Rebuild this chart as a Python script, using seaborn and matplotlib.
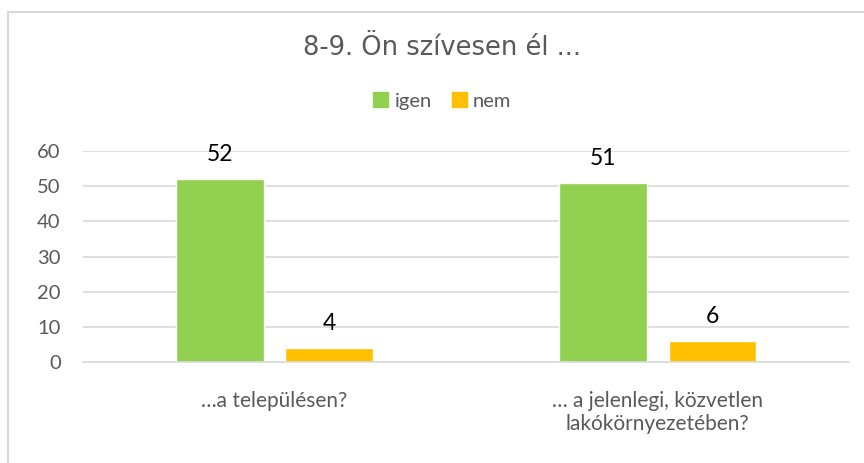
import pandas as pd
import numpy as np
import matplotlib.pyplot as plt
import seaborn as sns
from matplotlib.patches import Rectangle

# data
categories = ['…a településen?', '… a jelenlegi, közvetlen\nlakókörnyezetében?']
answers = ['igen', 'nem']
igen_values = [52, 51]
nem_values = [4, 6]
colors = {'igen': '#92D050', 'nem': '#FFC000'}

df = pd.DataFrame({
    'Kategoria': categories * 2,
    'Valasz': ['igen'] * len(categories) + ['nem'] * len(categories),
    'Ertek': igen_values + nem_values,
})

sns.set_theme(style='white')
plt.rcParams['font.family'] = ['Lato', 'DejaVu Sans']

fig = plt.figure(figsize=(8.64, 4.63), dpi=100)
ax = fig.add_axes([0.096, 0.218, 0.887, 0.456])

sns.barplot(data=df, x='Kategoria', y='Ertek', hue='Valasz', hue_order=answers,
            palette=colors, width=0.572, gap=0.2, saturation=1, ax=ax, legend=False)

for cont in ax.containers:
    ax.bar_label(cont, padding=10, fontsize=16.5, color='black')

ax.set_ylim(0, 60)
ax.set_xlim(-0.5, 1.5)
ax.set_yticks(range(0, 61, 10))
ax.yaxis.grid(True, color='#D9D9D9', linewidth=1.2)
ax.set_axisbelow(True)
for s in ['top', 'right', 'left']:
    ax.spines[s].set_visible(False)
ax.spines['bottom'].set_color('#D9D9D9')
ax.spines['bottom'].set_linewidth(1.2)
ax.set_xlabel('')
ax.set_ylabel('')
ax.tick_params(axis='y', labelsize=14.5, labelcolor='#595959', length=0, pad=16)
ax.tick_params(axis='x', labelsize=15, labelcolor='#595959', length=0, pad=21)
for lab in ax.get_xticklabels():
    lab.set_linespacing(1.2)

# title
fig.text(0.511, 0.896, '8-9. Ön szívesen él ...', ha='center', va='center',
         fontsize=18.5, color='#595959', family='DejaVu Sans')

# legend
handles = [Rectangle((0, 0), 1, 1, color=colors[a]) for a in answers]
fig.legend(handles, answers, loc='center', bbox_to_anchor=(0.512, 0.782), ncol=2,
           frameon=False, fontsize=14.5, labelcolor='#595959', handlelength=0.75,
           handleheight=0.75, handletextpad=0.3, columnspacing=1.0)

# chart border
fig.patches.append(Rectangle((8 / 864, -0.1), 1.1, 1.1 - 12 / 463,
                             transform=fig.transFigure, fill=False,
                             edgecolor='#D9D9D9', linewidth=1.5))

fig.savefig('out.png', dpi=100)
